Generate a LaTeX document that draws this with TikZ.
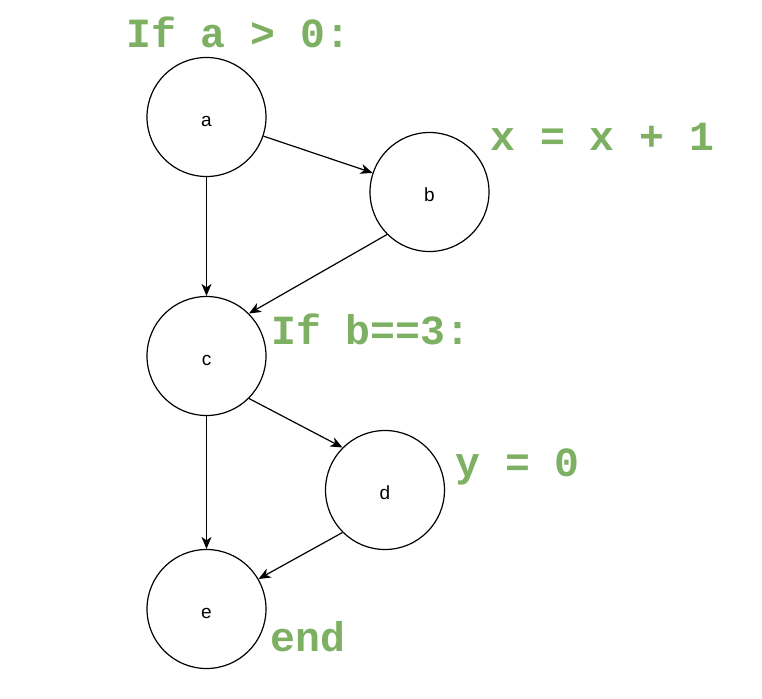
\documentclass[tikz,border=0pt]{standalone}
\usepackage{fontspec}
\setmainfont{Liberation Sans}
\newfontfamily\codefont{Liberation Mono}
\usetikzlibrary{arrows.meta}
\definecolor{codegreen}{HTML}{7DB062}
\tikzset{
  vertex/.style={circle, draw=black, line width=1.2pt, minimum size=119pt, inner sep=0pt,
    text height=18pt, text depth=0pt, font=\fontsize{19}{21}\selectfont},
  flow/.style={line width=1.2pt, -{Stealth[length=12pt, width=10pt, inset=3.5pt]}},
  code/.style={anchor=base west, inner sep=0pt, text=codegreen, font=\codefont\bfseries\fontsize{41.5}{43}\selectfont}
}
\begin{document}
\begin{tikzpicture}[x=1pt, y=-1pt]
\useasboundingbox (0,0) rectangle (762,698);
% control-flow vertices
\node[vertex] (a) at (206.5,117) {a};
\node[vertex] (b) at (429.5,192) {b};
\node[vertex] (c) at (206.5,356) {c};
\node[vertex] (d) at (385,490) {d};
\node[vertex] (e) at (206.5,609) {e};

% edges
\draw[flow] (a) -- (b);
\draw[flow] (a) -- (c);
\draw[flow] (b.225) -- (c.45);
\draw[flow] (c.-45) -- (d.135);
\draw[flow] (c) -- (e);
\draw[flow] (d.225) -- (e.30);

% code beside each vertex
\node[code] (la) at (126,48) {If a > 0:};
\node[code] (lb) at (490,150) {x = x + 1};
\node[code] (lc) at (271,344) {If b==3:};
\node[code] (ld) at (455,476) {y = 0};
\node[code] (le) at (270,651) {end};
\end{tikzpicture}
\end{document}
